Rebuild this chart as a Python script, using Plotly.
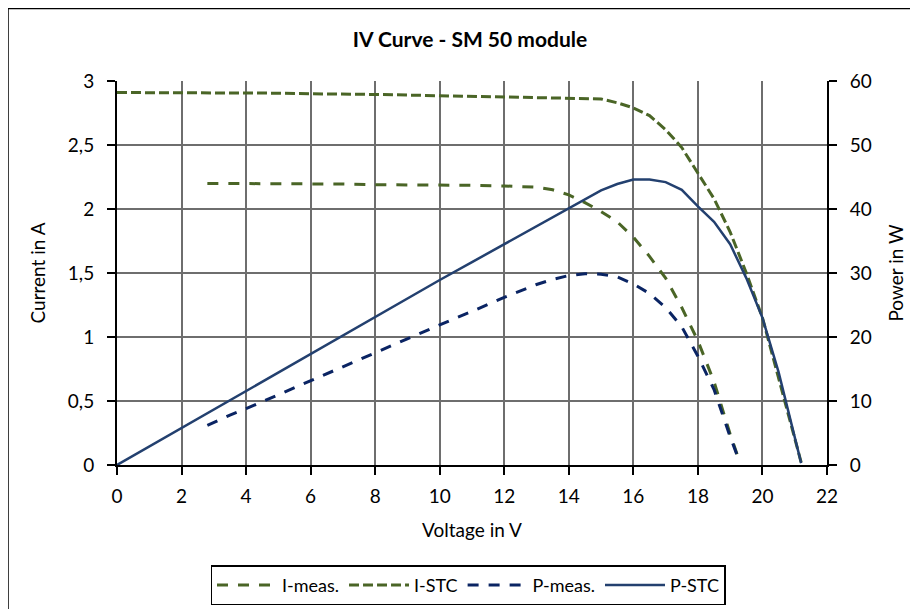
import plotly.graph_objects as go

# ---- data ----
v_stc = [0, 1, 2, 3, 4, 5, 6, 7, 8, 9, 10, 11, 12, 13, 14, 15, 15.5, 16, 16.5, 17, 17.5, 18, 18.5, 19, 19.5, 20, 20.5, 21, 21.2]
i_stc = [2.91, 2.91, 2.91, 2.91, 2.91, 2.905, 2.90, 2.90, 2.895, 2.89, 2.885, 2.88, 2.875, 2.87, 2.865, 2.86,
         2.83, 2.79, 2.73, 2.62, 2.48, 2.28, 2.08, 1.82, 1.50, 1.15, 0.68, 0.22, 0.02]
p_stc = [0, 2.9, 5.8, 8.7, 11.6, 14.5, 17.4, 20.3, 23.2, 26.0, 28.9, 31.7, 34.5, 37.3, 40.1, 42.9,
         43.9, 44.6, 44.6, 44.2, 43.0, 40.4, 38.0, 34.5, 29.2, 23.0, 14.5, 4.5, 0.3]

v_meas = [2.8, 3.5, 4, 5, 6, 7, 8, 9, 10, 11, 12, 13, 13.5, 14, 14.5, 15, 15.5, 16, 16.5, 17, 17.5, 18, 18.5, 19, 19.3]
i_meas = [2.20, 2.20, 2.20, 2.20, 2.20, 2.195, 2.19, 2.19, 2.19, 2.185, 2.18, 2.17, 2.15, 2.11, 2.05, 1.98,
          1.90, 1.78, 1.63, 1.46, 1.23, 0.97, 0.65, 0.24, 0.02]
p_meas = [6.2, 7.8, 8.8, 11.0, 13.2, 15.4, 17.5, 19.7, 21.9, 24.0, 26.2, 28.2, 29.0, 29.6, 29.9, 29.8,
          29.4, 28.3, 26.8, 24.6, 21.6, 17.0, 11.8, 4.4, 0.4]

x_ticks = list(range(0, 23, 2))
y_ticks = [0, 0.5, 1, 1.5, 2, 2.5, 3]
y2_ticks = [0, 10, 20, 30, 40, 50, 60]

GREEN = "#4A6526"
NAVY_D = "#0A2463"
NAVY = "#23406F"
FONT = "Lato, 'Open Sans', sans-serif"

fig = go.Figure()
fig.add_trace(go.Scatter(x=v_meas, y=i_meas, name="I-meas.", mode="lines",
                         line=dict(color=GREEN, width=3, dash="11px,10px")))
fig.add_trace(go.Scatter(x=v_stc, y=i_stc, name="I-STC", mode="lines",
                         line=dict(color=GREEN, width=3, dash="10px,4px")))
fig.add_trace(go.Scatter(x=v_meas, y=p_meas, name="P-meas.", mode="lines", yaxis="y2",
                         line=dict(color=NAVY_D, width=3, dash="11px,10px")))
fig.add_trace(go.Scatter(x=v_stc, y=p_stc, name="P-STC", mode="lines", yaxis="y2",
                         line=dict(color=NAVY, width=2.5)))

# page is offset by 8px (body margin); figure coordinates below
W, H = 918, 609
L, R, T, B = 109, 99, 73, 149
pw, ph = W - L - R, H - T - B

def px_to_paper_x(px):
    return (px - L) / pw

def px_to_paper_y(py):
    return (H - B - py) / ph

axis_common = dict(showline=True, linecolor="black", linewidth=2, ticks="outside", ticklen=8,
                   tickcolor="black", tickwidth=2, zeroline=False, tickfont=dict(size=19))

fig.update_layout(
    width=W, height=H,
    margin=dict(l=L, r=R, t=T, b=B),
    paper_bgcolor="white", plot_bgcolor="white",
    separators=", ",
    font=dict(family=FONT, color="black", size=19),
    title=dict(text="<b>IV Curve - SM 50 module</b>", x=px_to_paper_x(462), xref="paper",
               xanchor="center", y=1 - 32 / H, yanchor="middle",
               font=dict(size=21, family=FONT)),
    xaxis=dict(range=[0, 22], tickvals=x_ticks, showgrid=True, gridcolor="#6E6E6E", gridwidth=1.5,
               ticklabelstandoff=5,
               title=dict(text="Voltage in V", font=dict(size=19), standoff=18), **axis_common),
    yaxis=dict(range=[0, 3], tickvals=y_ticks, showgrid=True, gridcolor="#6E6E6E", gridwidth=1.5,
               ticklabelstandoff=9,
               title=dict(text="Current in A", font=dict(size=19), standoff=17), **axis_common),
    yaxis2=dict(range=[0, 60], tickvals=y2_ticks, overlaying="y", side="right", showgrid=False,
                ticklabelstandoff=9,
                title=dict(text="Power in W", font=dict(size=19), standoff=19), **axis_common),
    legend=dict(orientation="h", x=px_to_paper_x(460), xanchor="center",
                y=px_to_paper_y(561), yanchor="top",
                bordercolor="black", borderwidth=1.5, bgcolor="white",
                font=dict(size=18), itemwidth=60),
    showlegend=True,
    shapes=[dict(type="rect", xref="paper", yref="paper",
                 x0=px_to_paper_x(0), y0=px_to_paper_y(640),
                 x1=px_to_paper_x(950), y1=px_to_paper_y(0),
                 line=dict(color="black", width=1.5), fillcolor="rgba(0,0,0,0)", layer="below")],
)

fig.write_html("out.html")
